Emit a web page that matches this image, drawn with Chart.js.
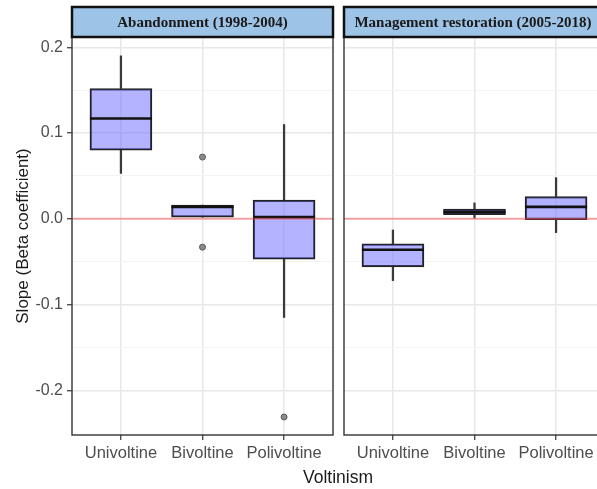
<!DOCTYPE html>
<html>
<head>
<meta charset="utf-8">
<script src="https://cdn.jsdelivr.net/npm/chart.js@4.4.1/dist/chart.umd.min.js"></script>
<style>
  html, body { margin: 0; padding: 0; background: #fff; }
  #wrap { position: relative; width: 597px; height: 489px; overflow: hidden; }
  #leftBox { position: absolute; left: 0; top: 0; width: 336px; height: 489px; }
  #rightBox { position: absolute; left: 336px; top: 0; width: 272px; height: 489px; }
  #xTitle {
    position: absolute; left: 238px; top: 467px; width: 200px; text-align: center;
    font: 17.5px "Liberation Sans", Arial, sans-serif; line-height: 20px; color: #1a1a1a;
  }
</style>
</head>
<body>
<div id="wrap">
  <div id="leftBox"><canvas id="left"></canvas></div>
  <div id="rightBox"><canvas id="right"></canvas></div>
  <div id="xTitle">Voltinism</div>
</div>
<script>
const categories = ["Univoltine", "Bivoltine", "Polivoltine"];
const yTicks = [-0.2, -0.15, -0.1, -0.05, 0, 0.05, 0.1, 0.15, 0.2];

// Abandonment (1998-2004)
const abMin = [0.053, 0.002, -0.115];
const abQ1 = [0.080, 0.002, -0.047];
const abMedian = [0.117, 0.014, 0.002];
const abQ3 = [0.152, 0.016, 0.022];
const abMax = [0.190, 0.016, 0.110];
const abOutCat = ["Bivoltine", "Bivoltine", "Polivoltine"];
const abOutVal = [0.072, -0.033, -0.231];

// Management restoration (2005-2018)
const mrMin = [-0.072, 0.000, -0.016];
const mrQ1 = [-0.056, 0.005, -0.001];
const mrMedian = [-0.036, 0.008, 0.014];
const mrQ3 = [-0.029, 0.0115, 0.026];
const mrMax = [-0.013, 0.0186, 0.048];
const mrOutCat = [];
const mrOutVal = [];

const FONT = "'Liberation Sans', Arial, sans-serif";

function isMajor(v) {
  return Math.abs(v * 10 - Math.round(v * 10)) < 1e-6;
}

const panelPlugin = {
  id: "panel",
  afterDatasetsDraw(chart) {
    const { ctx, chartArea: a, scales } = chart;
    const y0 = scales.y.getPixelForValue(0);
    ctx.save();
    ctx.beginPath();
    ctx.rect(a.left, a.top, a.width, a.height);
    ctx.clip();
    ctx.strokeStyle = "rgba(250,70,70,0.45)";
    ctx.lineWidth = 2;
    ctx.beginPath();
    ctx.moveTo(a.left, y0);
    ctx.lineTo(a.right, y0);
    ctx.stroke();
    ctx.restore();
  },
  afterDraw(chart, args, opts) {
    const { ctx, chartArea: a } = chart;
    ctx.save();
    // panel border
    ctx.strokeStyle = "#333";
    ctx.lineWidth = 1.4;
    ctx.strokeRect(a.left, a.top, a.width, a.height);
    // strip
    const h = 30;
    ctx.fillStyle = "#9dc3e6";
    ctx.fillRect(a.left, a.top - h, a.width, h);
    ctx.strokeStyle = "#111";
    ctx.lineWidth = 2.5;
    ctx.strokeRect(a.left, a.top - h, a.width, h);
    ctx.fillStyle = "#1a1a1a";
    ctx.font = "bold 15px 'Liberation Serif', 'Times New Roman', serif";
    ctx.textAlign = "center";
    ctx.textBaseline = "middle";
    ctx.fillText(opts.title, opts.titleX != null ? opts.titleX : (a.left + a.right) / 2, a.top - h / 2 + 1);
    ctx.restore();
  },
};

function whiskerSet(data) {
  return {
    data: data,
    order: 4,
    grouped: false,
    barPercentage: 1,
    categoryPercentage: 1,
    barThickness: 1.6,
    maxBarThickness: 1.6,
    backgroundColor: "#3a3a3a",
    borderWidth: 0,
  };
}

function makePanel(canvasId, title, mins, q1s, medians, q3s, maxs, outCat, outVal, showY, padLeft, titleX) {
  const upper = categories.map((c, i) => ({ x: i + 1, y: [q3s[i], maxs[i]] }));
  const lower = categories.map((c, i) => ({ x: i + 1, y: [mins[i], q1s[i]] }));
  const boxes = categories.map((c, i) => ({ x: i + 1, y: [q1s[i], q3s[i]] }));
  const meds = categories.map((c, i) => ({ x: i + 1, y: medians[i] }));
  const outliers = outCat.map((c, i) => ({ x: categories.indexOf(c) + 1, y: outVal[i] }));

  return new Chart(document.getElementById(canvasId), {
    type: "bar",
    data: {
      datasets: [
        {
          type: "line",
          data: outliers,
          showLine: false,
          order: 1,
          pointStyle: "circle",
          pointRadius: 3,
          pointBackgroundColor: "#8a8a8a",
          pointBorderColor: "#5a5a5a",
          pointBorderWidth: 1,
        },
        {
          type: "line",
          data: meds,
          showLine: false,
          order: 2,
          pointStyle: "line",
          pointRadius: 31,
          pointBorderWidth: 2.6,
          pointBorderColor: "#111",
        },
        {
          data: boxes,
          order: 3,
          grouped: false,
          barPercentage: 1,
          categoryPercentage: 1,
          barThickness: 62,
          maxBarThickness: 62,
          backgroundColor: "rgba(110,110,255,0.52)",
          borderColor: "#222",
          borderWidth: 1.6,
          borderSkipped: false,
        },
        whiskerSet(upper),
        whiskerSet(lower),
      ],
    },
    options: {
      responsive: true,
      maintainAspectRatio: false,
      animation: false,
      layout: { autoPadding: false, padding: { top: 37, right: 3, bottom: 0, left: padLeft } },
      plugins: {
        legend: { display: false },
        tooltip: { enabled: false },
        panel: { title: title, titleX: titleX },
      },
      scales: {
        x: {
          type: "linear",
          min: 0.4,
          max: 3.6,
          offset: false,
          afterBuildTicks: (s) => { s.ticks = categories.map((c, i) => ({ value: i + 1 })); },
          afterFit: (s) => {
            s.height = 54;
            s.paddingLeft = 0;
            s.paddingRight = 0;
          },
          border: { display: false },
          grid: { offset: false, color: "#e8e8e8", lineWidth: 1.5, tickLength: 5, tickColor: "#333", tickWidth: 1.2 },
          ticks: {
            padding: 4,
            color: "#4d4d4d",
            font: { family: FONT, size: 16.5 },
            maxRotation: 0,
            autoSkip: false,
            callback: (v) => categories[Math.round(v) - 1],
          },
        },
        y: {
          min: -0.252,
          max: 0.212,
          afterBuildTicks: (s) => { s.ticks = yTicks.map((v) => ({ value: v })); },
          afterFit: (s) => {
            s.width = showY ? 72 : 0;
            s.paddingTop = 0;
            s.paddingBottom = 0;
          },
          border: { display: false },
          grid: {
            color: (c) => (c.tick && isMajor(c.tick.value) ? "#e8e8e8" : "#f3f3f3"),
            lineWidth: (c) => (c.tick && isMajor(c.tick.value) ? 1.5 : 1),
            drawTicks: showY,
            tickLength: 5,
            tickColor: (c) => (c.tick && isMajor(c.tick.value) ? "#333" : "rgba(0,0,0,0)"),
            tickWidth: 1.2,
          },
          ticks: {
            display: showY,
            padding: 4,
            color: "#4d4d4d",
            font: { family: FONT, size: 16 },
            callback: (v) => (isMajor(v) ? v.toFixed(1) : ""),
          },
          title: {
            display: showY,
            text: "Slope (Beta coefficient)",
            color: "#1a1a1a",
            font: { family: FONT, size: 17 },
            padding: { top: 13, bottom: 0 },
          },
        },
      },
    },
    plugins: [panelPlugin],
  });
}

makePanel("left", "Abandonment (1998-2004)", abMin, abQ1, abMedian, abQ3, abMax, abOutCat, abOutVal, true, 0, null);
makePanel("right", "Management restoration (2005-2018)", mrMin, mrQ1, mrMedian, mrQ3, mrMax, mrOutCat, mrOutVal, false, 8, 137);
</script>
</body>
</html>
